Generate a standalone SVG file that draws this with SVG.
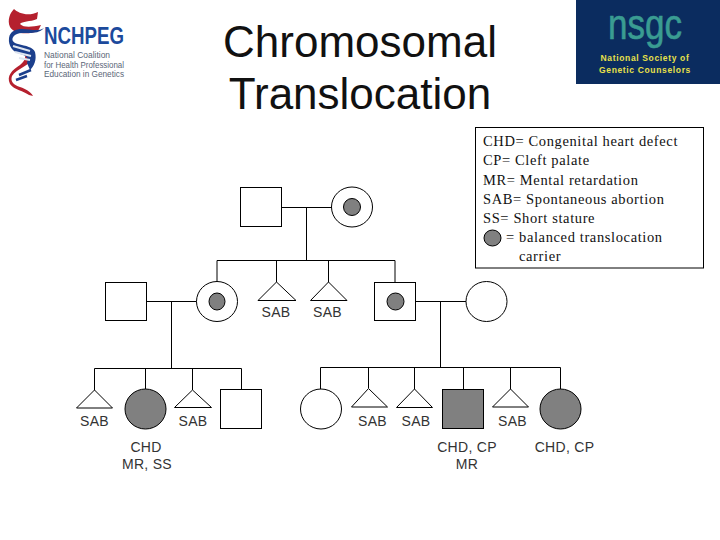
<svg xmlns="http://www.w3.org/2000/svg" width="720" height="540" viewBox="0 0 720 540">
<style>
.l{fill:none;stroke:#000;stroke-width:1}
.s{fill:#fff;stroke:#000;stroke-width:1}
.f{fill:#808080;stroke:#000;stroke-width:1}
.t{font-family:"Liberation Sans",Arial,sans-serif;font-size:14px;fill:#333;text-anchor:middle;letter-spacing:.3px}
.h{font-family:"Liberation Sans",Arial,sans-serif;font-size:44px;fill:#111;text-anchor:middle}
.g{font-family:"Liberation Serif","Times New Roman",serif;font-size:14.5px;fill:#111;letter-spacing:.62px}
.n{font-family:"Liberation Sans",Arial,sans-serif;font-size:9px;fill:#5a6678}
.y{font-family:"Liberation Sans",Arial,sans-serif;font-size:8.5px;font-weight:bold;fill:#e8e04a;text-anchor:middle;letter-spacing:.65px}
</style>
<rect width="720" height="540" fill="#fff"/>
<g id="logo-nchpeg">
<path d="M14 9C18 13 28 17 38 12L37 19C30 22 22 21 20 24C24 28 32 27 41 25L38 31C28 35 14 34 10 27C7 20 10 13 14 9Z" fill="#b5202e"/>
<path d="M33 58C30 66 17 68 12 76C10 82 14 85 20 87C26 89 31 92 33 96L29 95C24 91 14 90 10 84C6 76 12 70 20 65C24 62 26 58 25 54Z" fill="#b5202e"/>
<path d="M44 28C36 37 22 30 15 35C10 39 13 43 18 44C26 46 33 47 35 52C37 60 34 66 30 70L27 63C29 58 26 55 20 54C13 52 8 46 9 38C10 31 16 29 22 29C30 29 38 32 44 28Z" fill="#1c3f8c"/>
<path d="M13 46L30 51M15 52L31 56M19 58L30 60" stroke="#dfe6f0" stroke-width="2" fill="none"/>
<path d="M19 75L31 70M16 80L27 76" stroke="#1c3f8c" stroke-width="2.5" fill="none"/>
<text x="44" y="44" font-family="'Liberation Sans',Arial,sans-serif" font-weight="bold" font-size="24" fill="#1c4a9c" textLength="80" lengthAdjust="spacingAndGlyphs">NCHPEG</text>
<text class="n" x="44" y="58" textLength="66" lengthAdjust="spacingAndGlyphs">National Coalition</text>
<text class="n" x="44" y="67.5" textLength="80" lengthAdjust="spacingAndGlyphs">for Health Professional</text>
<text class="n" x="44" y="77" textLength="80" lengthAdjust="spacingAndGlyphs">Education in Genetics</text>
</g>
<g id="logo-nsgc">
<rect x="576" y="0" width="144" height="84" fill="#0b2c5f"/>
<text x="608" y="39" font-family="'Liberation Sans',Arial,sans-serif" font-size="42" fill="#3a9c92" stroke="#3a9c92" stroke-width=".6" textLength="74" lengthAdjust="spacingAndGlyphs">nsgc</text>
<text class="y" x="645" y="61">National Society of</text>
<text class="y" x="645" y="73">Genetic Counselors</text>
</g>
<g id="title">
<text class="h" x="360" y="57">Chromosomal</text>
<text class="h" x="360" y="109">Translocation</text>
</g>
<g id="connectors">
<path class="l" d="M282 207.5H332M306.5 207.5V260.5M217 282V260.5H395V282M276.5 260.5V282M328.5 260.5V282"/>
<path class="l" d="M146 301.5H197M171.5 301.5V368.5M94.5 390V368.5H241.5V389M145.5 368.5V389M192.5 368.5V390"/>
<path class="l" d="M415 301.5H467M440.5 301.5V367.5M320.5 389V367.5H560.5V389M368.5 367.5V388M414.5 367.5V389M463.5 367.5V389M510.5 367.5V389"/>
</g>
<g id="gen1-father"><rect class="s" x="240.5" y="187.5" width="41" height="39"/></g>
<g id="gen1-mother"><ellipse class="s" cx="352" cy="207" rx="20.5" ry="20"/><ellipse class="f" cx="352" cy="207" rx="8.5" ry="8.5"/></g>
<g id="gen2-husband"><rect class="s" x="105.5" y="282.5" width="41" height="38"/></g>
<g id="gen2-carrier-f"><ellipse class="s" cx="217" cy="301.5" rx="20.5" ry="20"/><ellipse class="f" cx="217" cy="301.5" rx="8" ry="8.5"/></g>
<g id="gen2-sab1"><path class="s" d="M276.5 282L258 300.5H296Z"/></g>
<g id="gen2-sab2"><path class="s" d="M328.5 282L310.5 300.5H347Z"/></g>
<g id="gen2-carrier-m"><rect class="s" x="374.5" y="282.5" width="41" height="38"/><ellipse class="f" cx="395.5" cy="301.5" rx="8.5" ry="8.5"/></g>
<g id="gen2-wife"><ellipse class="s" cx="486.5" cy="301.5" rx="20.5" ry="20"/></g>
<g id="gen3-sab1"><path class="s" d="M94.5 390L76.5 408H112.5Z"/></g>
<g id="gen3-girl1"><ellipse class="f" cx="145.5" cy="409" rx="20.5" ry="20"/></g>
<g id="gen3-sab2"><path class="s" d="M192.5 390L174.5 407.5H211.5Z"/></g>
<g id="gen3-boy1"><rect class="s" x="220.5" y="389.5" width="41" height="39"/></g>
<g id="gen3-girl2"><ellipse class="s" cx="321" cy="409" rx="20.5" ry="20"/></g>
<g id="gen3-sab3"><path class="s" d="M368.5 388.5L351.5 407H387.5Z"/></g>
<g id="gen3-sab4"><path class="s" d="M414.5 389L396.5 407.5H432.5Z"/></g>
<g id="gen3-boy2"><rect class="f" x="442.5" y="389.5" width="41" height="39"/></g>
<g id="gen3-sab5"><path class="s" d="M510.5 389L492.5 407H528.5Z"/></g>
<g id="gen3-girl3"><ellipse class="f" cx="560.5" cy="409" rx="20.5" ry="20"/></g>
<g id="labels">
<text class="t" x="276" y="317">SAB</text>
<text class="t" x="327.5" y="317">SAB</text>
<text class="t" x="94.5" y="426">SAB</text>
<text class="t" x="193" y="426">SAB</text>
<text class="t" x="372.5" y="426">SAB</text>
<text class="t" x="416" y="426">SAB</text>
<text class="t" x="512.5" y="426">SAB</text>
<text class="t" x="146" y="452">CHD</text>
<text class="t" x="147" y="469">MR, SS</text>
<text class="t" x="467" y="452">CHD, CP</text>
<text class="t" x="467" y="469">MR</text>
<text class="t" x="564.5" y="452">CHD, CP</text>
</g>
<g id="legend">
<rect x="475.5" y="127.5" width="228" height="140.5" fill="#fff" stroke="#000"/>
<text class="g" x="483" y="146">CHD= Congenital heart defect</text>
<text class="g" x="483" y="165">CP= Cleft palate</text>
<text class="g" x="483" y="184.5">MR= Mental retardation</text>
<text class="g" x="483" y="204">SAB= Spontaneous abortion</text>
<text class="g" x="483" y="223">SS= Short stature</text>
<ellipse class="f" cx="492.5" cy="238" rx="8.5" ry="8"/>
<text class="g" x="506" y="242">= balanced translocation</text>
<text class="g" x="519" y="261">carrier</text>
</g>
</svg>
